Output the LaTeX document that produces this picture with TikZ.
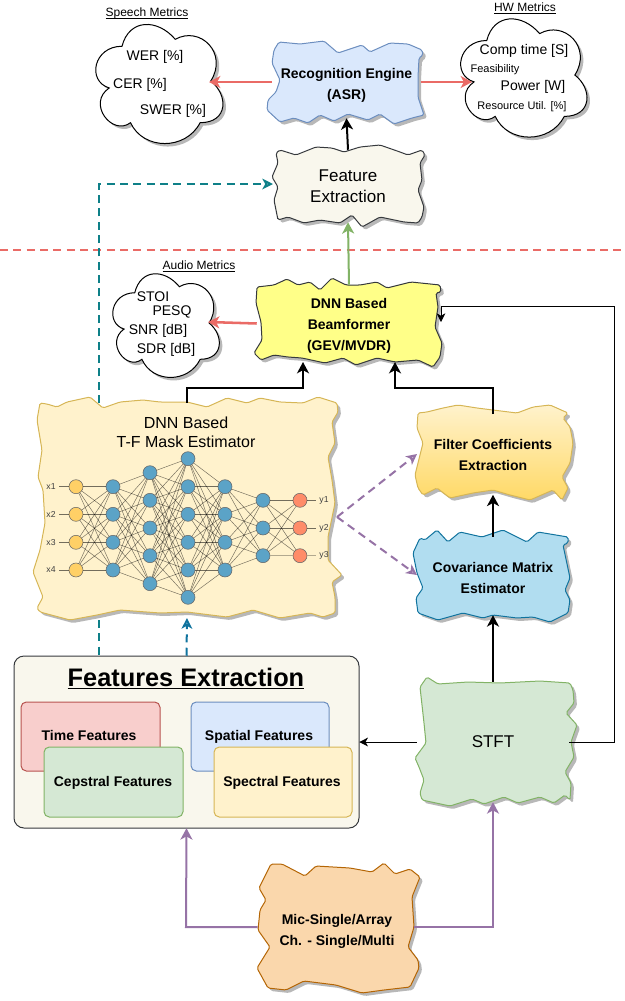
\documentclass[tikz,border=0pt]{standalone}
\usepackage{fontspec}
\setmainfont{Liberation Sans}
\usetikzlibrary{arrows.meta}
\definecolor{cred}{HTML}{EA6B66}
\definecolor{cteal}{HTML}{0E8088}
\definecolor{cblue}{HTML}{10739E}
\definecolor{cpurple}{HTML}{9673A6}
\definecolor{cgreen}{HTML}{82B366}
\definecolor{cdark}{HTML}{36393D}
\definecolor{inp}{HTML}{FFD066}
\definecolor{hid}{HTML}{5BA3C7}
\definecolor{outp}{HTML}{FF8C69}
\definecolor{fasr}{HTML}{DAE8FC}\definecolor{dasr}{HTML}{6C8EBF}
\definecolor{ffe}{HTML}{F9F7ED}
\definecolor{fbf}{HTML}{FFFF88}
\definecolor{fyel}{HTML}{FFF2CC}\definecolor{dyel}{HTML}{D6B656}\definecolor{fgold}{HTML}{FFD966}
\definecolor{fcov}{HTML}{B1DDF0}
\definecolor{fgrn}{HTML}{D5E8D4}
\definecolor{fmic}{HTML}{FAD7AC}\definecolor{dmic}{HTML}{B46504}
\definecolor{fred}{HTML}{F8CECC}\definecolor{dred}{HTML}{B85450}
\newcommand\wob[2]{\fill[black!28,shift={(3,3)},rounded corners=1.2pt] #2 -- cycle; \draw[line width=.75pt,rounded corners=1.2pt,#1] #2 -- cycle;}
\newcommand\cloudshape[4]{%
 \begin{scope}[shift={(#1,#2)},x=#3*0.75pt,y=-#4*0.75pt]
  \def\cloudcurve{(.25,.25) .. controls (.05,.25) and (0,.5) .. (.16,.55) .. controls (0,.66) and (.18,.9) .. (.31,.8) .. controls (.4,1) and (.7,1) .. (.8,.8) .. controls (1,.8) and (1,.6) .. (.875,.5) .. controls (1,.3) and (.8,.1) .. (.625,.2) .. controls (.5,.05) and (.3,.05) .. (.25,.25) -- cycle}
  \fill[black!28,shift={(3/#3,3/#4)}] \cloudcurve;
  \draw[line width=.75pt,draw=black,fill=white] \cloudcurve;
 \end{scope}}
\newcommand\ul[1]{\underline{\smash{#1}}}
\tikzset{
 ttxt/.style={inner sep=0pt,align=center,font=\fontsize{#1}{\dimexpr#1pt*6/5\relax}\selectfont},
 btxt/.style={inner sep=0pt,align=center,font=\fontsize{10.5}{15.75}\selectfont\bfseries},
 lbl/.style={inner sep=0pt,anchor=base,font=\fontsize{9}{11}\selectfont},
 wnode/.style n args={2}{inner sep=0pt,align=center,minimum width=#1*0.75pt,minimum height=#2*0.75pt},
 arr/.style={-{Stealth[length=8.5pt,width=9pt,inset=2.4pt]},line width=1.5pt},
 redarr/.style={-{Stealth[length=8.5pt,width=9pt,inset=2.4pt]},line width=1.9pt,cred},
 thinarr/.style={-{Stealth[length=6.5pt,width=6.5pt,inset=1.8pt]},line width=.75pt,black},
 dasharr/.style={-{Stealth[open,length=8pt,width=8pt,inset=2.2pt]},line width=1.5pt,dash pattern=on 6pt off 4pt},
 dashln/.style={line width=1.5pt,dash pattern=on 6pt off 4pt},
 nnin/.style={circle,draw=black!60,line width=.4pt,fill=inp,minimum size=10.5pt,inner sep=0pt},
 nnhid/.style={circle,draw=black!60,line width=.4pt,fill=hid,minimum size=10.5pt,inner sep=0pt},
 nnout/.style={circle,draw=black!60,line width=.4pt,fill=outp,minimum size=10.5pt,inner sep=0pt},
 nnedge/.style={line width=.35pt,black,opacity=.55},
 nnfaint/.style={line width=.5pt,black!30!fyel},
 inbox/.style={rounded corners=4pt,line width=.75pt},
 intxt/.style={inner sep=0pt,anchor=base,font=\fontsize{10.5}{12}\selectfont\bfseries},
 nnlab/.style={inner sep=0pt,font=\fontsize{6.5}{8}\selectfont,text=black!75},
}
\begin{document}
\begin{tikzpicture}[x=0.75pt,y=-0.75pt]
\useasboundingbox (0,0) rectangle (625,1001);
% separator
\draw[cred,line width=1.5pt,dash pattern=on 6pt off 4pt] (0,250) -- (625,250);

% clouds
\cloudshape{86.5}{11.5}{142}{139}
\cloudshape{451.5}{6}{141}{138}
\cloudshape{105}{262.5}{119}{121}
\coordinate (speechR) at (209,82);
\coordinate (hwL) at (472,82);
\coordinate (audioR) at (208,322);
\node[lbl] (tspeech) at (147,16) {\ul{Speech Metrics}};
\node[lbl] (thw) at (525,11) {\ul{HW Metrics}};
\node[lbl] (taudio) at (199,269) {\ul{Audio Metrics}};
\node[ttxt=10.5] (wer) at (155,57) {WER [\%]};
\node[ttxt=10.5] (cer) at (140,85) {CER [\%]};
\node[ttxt=10.5] (swer) at (173,111) {SWER [\%]};
\node[ttxt=10.5] (comp) at (524,51) {Comp time [S]};
\node[ttxt=8.25] (feas) at (495,70) {Feasibility};
\node[ttxt=10.5] (pow) at (533,87) {Power [W]};
\node[ttxt=8.25] (res) at (522,107) {Resource Util. [\%]};
\node[ttxt=10.5] (stoi) at (153,297) {STOI};
\node[ttxt=10.5] (pesq) at (172,312) {PESQ};
\node[ttxt=10.5] (snr) at (158,331) {SNR [dB]};
\node[ttxt=10.5] (sdr) at (166,350) {SDR [dB]};

% wobbly shapes
\wob{draw=dasr,fill=fasr}{(274,50)--(279,42)--(300,44)--(324,41)--(338,53)--(362,45)--(370,52)--(390,43)--(408,44)--(422,50)--(423,55)--(419,58)--(418,77)--(418,97)--(424,115)--(412,118)--(394,124)--(380,114)--(368,120)--(348,114)--(334,121)--(320,115)--(308,123)--(294,118)--(280,122)--(267,110)--(268,100)--(276,92)--(280,80)--(272,63)}
\node[wnode={149}{72},btxt] (asr) at (346.5,82) {};
\node[btxt] (asrt) at (346.5,85) {Recognition Engine\\(ASR)};

\wob{draw=cdark,fill=ffe}{(276,153)--(280,150)--(296,155)--(316,147)--(332,148)--(344,152)--(360,147)--(380,145)--(400,152)--(408,155)--(422,150)--(425,155)--(420,163)--(422,180)--(418,190)--(424,207)--(422,217)--(418,223)--(404,222)--(380,217)--(362,227)--(352,215)--(340,223)--(320,220)--(304,223)--(288,217)--(278,220)--(274,200)--(278,187)--(272,177)--(278,163)}
\node[wnode={150}{72},ttxt=12.75] (fe) at (348,186) {Feature\\[.6pt]Extraction};

\wob{draw=cdark,fill=fbf}{(257,287)--(274,285)--(287,279)--(298,285)--(310,282)--(320,290)--(332,278)--(346,285)--(360,285)--(377,282)--(387,288)--(411,282)--(440,285)--(441,292)--(436,293)--(438,307)--(435,327)--(442,343)--(440,357)--(433,367)--(418,360)--(395,362)--(377,358)--(356,365)--(343,358)--(325,363)--(302,358)--(288,357)--(274,355)--(261,360)--(254,353)--(262,340)--(261,322)--(256,303)}
\node[wnode={184}{77},btxt] (bf) at (349,323.5) {};
\node[btxt] (bft) at (349,325.5) {DNN Based\\Beamformer\\(GEV/MVDR)};

\wob{draw=dyel,fill=fyel}{(40,403)--(47,404)--(57,407)--(67,402)--(90,397)--(103,408)--(120,402)--(143,400)--(160,402)--(187,402)--(207,407)--(227,398)--(247,403)--(260,398)--(280,402)--(303,403)--(318,397)--(337,403)--(338,412)--(332,422)--(335,443)--(328,457)--(332,480)--(335,503)--(328,537)--(328,560)--(342,575)--(332,582)--(335,597)--(335,613)--(323,617)--(310,613)--(280,618)--(253,610)--(227,617)--(187,612)--(160,613)--(120,610)--(97,615)--(70,620)--(40,612)--(37,608)--(43,597)--(33,572)--(40,550)--(45,523)--(43,490)--(38,477)--(42,450)--(37,420)}
\node[wnode={305}{215}] (dnn) at (187,510.5) {};
\node[ttxt=12] (dnnt) at (186,432) {DNN Based\\T-F Mask Estimator};

% neural net
\foreach \c/\x/\kind/\ys in {
 1/76/nnin/{486.7,514.3,542.3,570},
 2/113/nnhid/{486.7,514.3,542.3,570},
 3/150/nnhid/{472.7,500.3,528,555.7,583.7},
 4/188/nnhid/{458.7,486.7,514.3,542.3,570,597.3},
 5/225/nnhid/{486.7,514.3,542.3,570},
 6/263/nnhid/{500.3,528,555.7},
 7/300/nnout/{500.3,528,555.7}}{
  \foreach \y [count=\i] in \ys {\node[\kind] (n\c-\i) at (\x,\y) {};}
}
\foreach \a/\na/\b/\nb in {1/4/2/4,2/4/3/5,3/5/4/6,4/6/5/4,5/4/6/3}{
 \foreach \i in {1,...,\na}{\foreach \j in {1,...,\nb}{\draw[nnedge] (n\a-\i) -- (n\b-\j);}}}
\foreach \i/\j in {1/1,1/2,1/3,2/1,2/2,2/3,3/1,3/2}{\draw[nnedge] (n6-\i) -- (n7-\j);}
\draw[nnfaint] (n6-3) -- (n7-3);
\foreach \i/\y/\t in {1/486.7/x1,2/514.3/x2,3/542.3/x3,4/570/x4}{
 \node[nnlab] (lx\i) at (51,\y) {\t};
 \draw[nnedge,shorten <=2.5pt] (lx\i) -- (n1-\i);}
\foreach \i/\y/\t in {1/500.3/y1,2/528/y2}{
 \node[nnlab] (ly\i) at (324,\y) {\t};
 \draw[nnedge,shorten <=2.5pt] (ly\i) -- (n7-\i);}
\node[nnlab] (ly3) at (324,555.7) {y3};
\draw[nnfaint,shorten <=2.5pt] (ly3) -- (n7-3);

\wob{draw=dyel,top color=fyel,bottom color=fgold}{(418,413)--(427,412)--(443,408)--(458,405)--(477,408)--(493,410)--(517,413)--(533,407)--(550,405)--(568,413)--(563,418)--(570,427)--(573,443)--(570,463)--(562,477)--(568,488)--(562,500)--(553,490)--(530,500)--(510,495)--(493,490)--(473,493)--(450,498)--(437,488)--(423,495)--(418,488)--(415,475)--(418,463)--(423,443)--(417,428)}
\node[wnode={152}{80},btxt] (filt) at (493,454.5) {Filter Coefficients\\Extraction};

\wob{draw=cblue,fill=fcov}{(420,538)--(425,540)--(437,530)--(448,542)--(460,532)--(482,537)--(503,530)--(527,542)--(538,532)--(568,537)--(568,543)--(563,545)--(570,578)--(565,590)--(570,600)--(568,613)--(550,622)--(533,617)--(517,618)--(493,615)--(483,618)--(463,613)--(438,620)--(418,613)--(416,598)--(423,588)--(417,573)--(413,553)}
\node[wnode={152}{78},btxt] (cov) at (493,576) {};
\node[btxt] (covt) at (493,578) {Covariance Matrix\\Estimator};

\wob{draw=cgreen,fill=fgrn}{(427,677)--(438,684)--(468,682)--(500,683)--(540,681)--(570,683)--(573,690)--(574,703)--(566,713)--(577,725)--(571,742)--(574,757)--(565,772)--(571,783)--(570,800)--(565,795)--(554,803)--(540,797)--(518,803)--(504,797)--(484,804)--(472,799)--(450,806)--(422,800)--(420,793)--(424,780)--(419,767)--(415,758)--(426,743)--(424,723)--(420,687)}
\node[wnode={152}{120},ttxt=12.75] (stft) at (493,742) {STFT};

\wob{draw=dmic,fill=fmic}{(271,864)--(282,864)--(305,876)--(316,866)--(350,868)--(372,872)--(384,863)--(395,874)--(410,869)--(420,877)--(412,897)--(414,927)--(408,947)--(418,960)--(419,968)--(410,987)--(384,990)--(362,993)--(336,985)--(304,981)--(286,990)--(268,988)--(257,968)--(270,947)--(258,930)--(260,910)--(266,900)--(259,888)}
\node[wnode={156}{130},btxt] (mic) at (336,927) {};
\node[btxt] (mict) at (337,931) {Mic-Single/Array\\Ch. - Single/Multi};

% features extraction panel
\draw[line width=.75pt,draw=cdark,fill=ffe,rounded corners=7.5pt] (14,656) rectangle (359,828);
\node[wnode={345}{172}] (fx) at (186.5,742) {};
\node[inner sep=0pt,anchor=base,font=\fontsize{19}{22}\selectfont\bfseries] (fxt) at (186,686) {\ul{Features Extraction}};
\draw[inbox,draw=dred,fill=fred] (21,702) rectangle (160,771);
\node[intxt] (tf) at (89,740) {Time Features};
\draw[inbox,draw=dasr,fill=fasr] (191,702) rectangle (329,771);
\node[intxt] (sf) at (259,740) {Spatial Features};
\draw[inbox,draw=cgreen,fill=fgrn] (44,747) rectangle (183,817);
\node[intxt] (cf) at (113,786) {Cepstral Features};
\draw[inbox,draw=dyel,fill=fyel] (214,747) rectangle (352,817);
\node[intxt] (spf) at (282,786) {Spectral Features};

% free ends
\coordinate (dnnTL) at (99,403);
\coordinate (dnnBL) at (99,620);
\coordinate (fxTL) at (99,656);
\coordinate (dnnB) at (187,618);
\coordinate (feL) at (273,184);
\coordinate (bf1) at (303,362);
\coordinate (bf2) at (395,362);
\coordinate (bfR) at (441,322);
\coordinate (dnnR) at (337,517);
\coordinate (filtL) at (417,454);
\coordinate (covL) at (417,575);

% connectors
\draw[dasharr,cteal] (dnnTL) -- (99,184) -- (feL);
\draw[dashln,cteal] (dnnBL) -- (fxTL);
\draw[dasharr,cblue] (fx.north) -- (dnnB);
\draw[arr,black] (fe.north) -- (asr.south);
\draw[arr,cgreen] (bf.north) -- (fe.south);
\draw[redarr] (asr.west) -- (speechR);
\draw[redarr] (asr.east) -- (hwL);
\draw[redarr] (bf.west) -- (audioR);
\draw[arr,black] (dnn.north) -- (187,388) -| (bf1);
\draw[arr,black] (filt.north) -- (493,388) -| (bf2);
\draw[arr,black] (cov.north) -- (filt.south);
\draw[arr,black] (stft.north) -- (cov.south);
\draw[thinarr] (stft.east) -- (614,742) -- (614,306) -- (441,306) -- (bfR);
\draw[thinarr] (stft.west) -- (fx.east);
\draw[dasharr,cpurple] (dnnR) -- (filtL);
\draw[dasharr,cpurple] (dnnR) -- (covL);
\draw[arr,cpurple] (mic.west) -- (186,927) -- (fx.south);
\draw[arr,cpurple] (mic.east) -- (493,927) -- (stft.south);
\end{tikzpicture}
\end{document}
